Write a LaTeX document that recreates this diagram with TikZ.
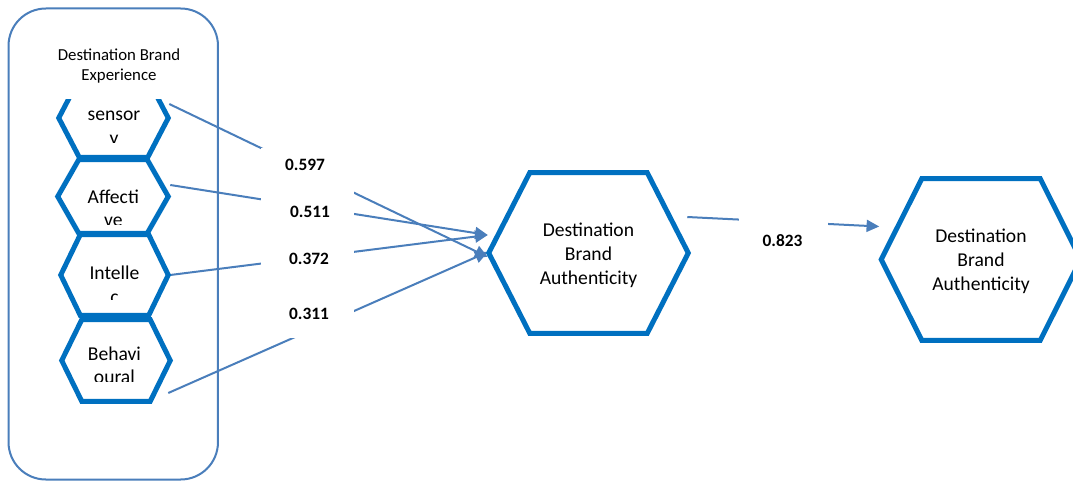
\documentclass[tikz,border=0pt]{standalone}
\usepackage{fontspec}
\setmainfont{Carlito}
\usetikzlibrary{calc,arrows.meta}
\definecolor{hexblue}{RGB}{0,112,192}
\definecolor{lineblue}{RGB}{74,126,187}
\newcommand{\hexshape}[2]{\draw[hexline] (#1.west) -- ($(#1.north west)+(#2,0)$) -- ($(#1.north east)+(-#2,0)$) -- (#1.east) -- ($(#1.south east)+(-#2,0)$) -- ($(#1.south west)+(#2,0)$) -- cycle;}
\begin{document}
\begin{tikzpicture}[x=0.75pt,y=-0.75pt,
  hexnode/.style={rectangle,inner sep=0pt,draw=none},
  hexline/.style={draw=hexblue,line width=3.75pt},
  conn/.style={draw=lineblue,line width=1.5pt,-{Triangle[length=9.5pt,width=9pt]}},
  hextext/.style={align=center,inner sep=0pt,font=\fontsize{14.7}{17.6}\selectfont},
  bigtext/.style={align=center,inner sep=0pt,font=\fontsize{14.7}{18}\selectfont},
  coef/.style={inner sep=0pt,font=\fontsize{13}{15}\selectfont\bfseries},
  titletext/.style={align=center,inner sep=0pt,font=\fontsize{12.6}{15.5}\selectfont}]
\clip (0,0) rectangle (1073,481);
\fill[white] (0,0) rectangle (1073,481);

% container panel
\node[draw=lineblue,line width=1.5pt,rounded corners=28pt,minimum width=157.1pt,minimum height=353.25pt,inner sep=0pt] (panel) at (113.25,244) {};
\node[titletext] (title) at (119,66.3) {\strut Destination Brand\\\strut Experience};

% hexagon nodes
\node[hexnode,minimum width=81.75pt,minimum height=58.5pt] (sens) at (113.5,118) {};
\node[hexnode,minimum width=82.5pt,minimum height=54.75pt] (aff) at (113,196.5) {};
\node[hexnode,minimum width=80.25pt,minimum height=60pt] (intl) at (114.5,275) {};
\node[hexnode,minimum width=81pt,minimum height=60.75pt] (beh) at (116,360.5) {};
\node[hexnode,minimum width=149.25pt,minimum height=120pt] (dba1) at (588.5,253) {};
\node[hexnode,minimum width=149.25pt,minimum height=120.75pt] (dba2) at (981,259.5) {};
\node[bigtext] (dba1t) at (588.5,256) {\strut Destination\\\strut Brand\\\strut Authenticity};
\node[bigtext] (dba2t) at (981,262) {\strut Destination\\\strut Brand\\\strut Authenticity};

% connectors
\draw[conn] ($(sens.east)+(1,-14)$) -- ($(dba1.west)+(-1,4)$);
\draw[conn] ($(aff.east)+(2,-11.5)$) -- ($(dba1.west)+(-1,-18)$);
\draw[conn] ($(intl.east)+(2,0)$) -- ($(dba1.west)+(-1,-18)$);
\draw[conn] ($(beh.east)+(-2,32.5)$) -- ($(dba1.west)+(-1,-1)$);
\draw[conn] ($(dba1.east)+(-1,-36)$) -- ($(dba2.west)+(-2,-33)$);

% label backgrounds
\fill[white] (261,148) rectangle (354,338);
\fill[white] (739,205) rectangle (828,262);

% coefficients
\node[coef] (c1) at (305,165) {0.597};
\node[coef] (c2) at (310,212) {0.511};
\node[coef] (c3) at (309,259) {0.372};
\node[coef] (c4) at (309,314) {0.311};
\node[coef] (c5) at (782.5,241) {0.823};

% hexagon outlines
\begin{scope}
\clip (0,99.5) rectangle (250,481);
\hexshape{sens}{20.5}
\end{scope}
\hexshape{aff}{21}
\hexshape{intl}{19.5}
\hexshape{beh}{20}
\hexshape{dba1}{41}
\hexshape{dba2}{40.5}

% clipped texts in left hexagons
\begin{scope}
\clip (60,99.5) rectangle (170,142.5);
\node[hextext] (senst) at (114,128) {\strut sensor\\\strut y};
\end{scope}
\begin{scope}
\clip (60,160) rectangle (170,224.5);
\node[hextext] (afft) at (113.3,210.5) {\strut Affecti\\\strut ve};
\end{scope}
\begin{scope}
\clip (60,236) rectangle (170,299.5);
\node[hextext] (intlt) at (114.5,286.7) {\strut Intelle\\\strut c};
\end{scope}
\begin{scope}
\clip (60,321) rectangle (170,381.5);
\node[hextext] (beht) at (114.4,367.5) {\strut Behavi\\\strut oural};
\end{scope}
\end{tikzpicture}
\end{document}
